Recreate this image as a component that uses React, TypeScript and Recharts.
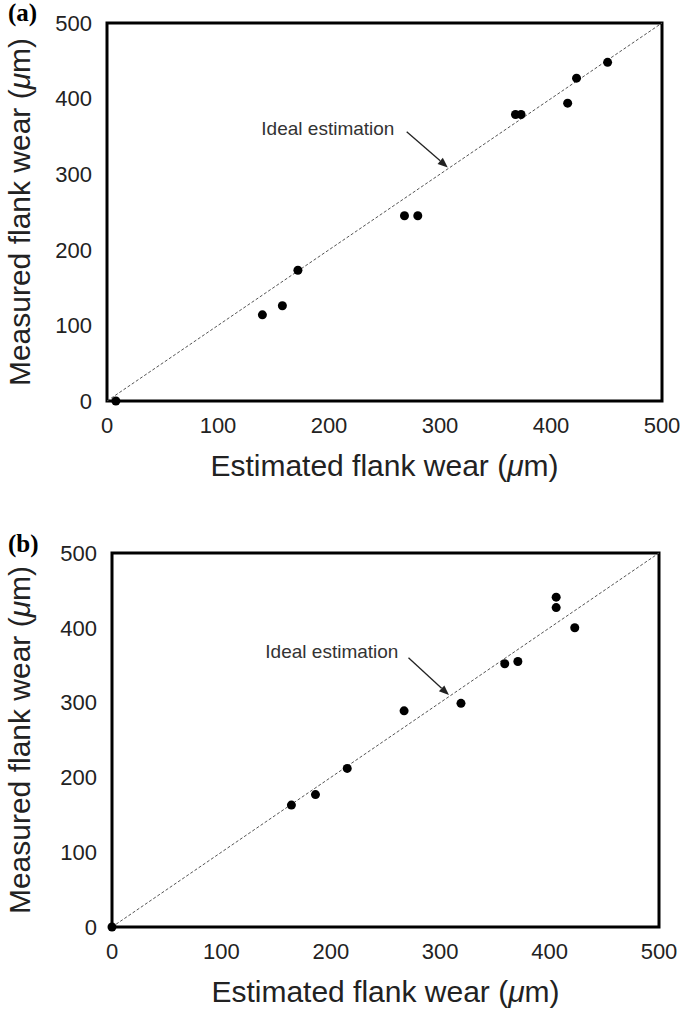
import React from 'react';
import {
  ScatterChart,
  Scatter,
  XAxis,
  YAxis,
  ReferenceLine,
  ReferenceArea,
  ReferenceDot,
  Label,
} from 'recharts';

// ---------- data ----------
const axisTicks = [0, 100, 200, 300, 400, 500];

const estimatedA = [8, 140, 158, 172, 268, 280, 368, 373, 415, 423, 451];
const measuredA = [0, 114, 126, 173, 245, 245, 379, 379, 394, 427, 448];

const estimatedB = [0, 164, 186, 215, 267, 319, 359, 371, 406, 406, 423];
const measuredB = [0, 163, 177, 212, 289, 299, 352, 355, 441, 427, 400];

const idealLine = [
  { x: 0, y: 0 },
  { x: 500, y: 500 },
];

const noteText = 'Ideal estimation';
const noteA = { text: { x: 199, y: 352 }, from: { x: 270, y: 356 }, to: { x: 307, y: 309 } };
const noteB = { text: { x: 201, y: 360 }, from: { x: 271, y: 360 }, to: { x: 308, y: 310 } };

const xTitle = 'Estimated flank wear';
const yTitle = 'Measured flank wear';

// ---------- helpers ----------
const FONT = "'Liberation Sans', Arial, sans-serif";

const toPoints = (xs: number[], ys: number[]) => xs.map((x, i) => ({ x, y: ys[i] }));

const Dot = (p: any) => <circle cx={p.cx} cy={p.cy} r={4.5} fill="#000" />;

const Arrow = (p: any) => {
  const { x1, y1, x2, y2 } = p;
  const ang = Math.atan2(y2 - y1, x2 - x1);
  const L = 10;
  const W = 4;
  const bx = x2 - L * Math.cos(ang);
  const by = y2 - L * Math.sin(ang);
  const px = -Math.sin(ang) * W;
  const py = Math.cos(ang) * W;
  return (
    <g>
      <line x1={x1} y1={y1} x2={bx} y2={by} stroke="#222" strokeWidth={1.3} />
      <polygon points={`${x2},${y2} ${bx + px},${by + py} ${bx - px},${by - py}`} fill="#222" />
    </g>
  );
};

const NoteText = (p: any) => (
  <text x={p.cx} y={p.cy} textAnchor="middle" fontFamily={FONT} fontSize={19} fill="#333">
    {noteText}
  </text>
);

const XTitle = (props: any) => {
  const vb = props.viewBox || {};
  return (
    <text
      x={vb.x + vb.width / 2}
      y={vb.y + 75}
      textAnchor="middle"
      fontFamily={FONT}
      fontSize={30}
      fill="#222"
    >
      {xTitle} (<tspan fontStyle="italic">μ</tspan>m)
    </text>
  );
};

const YTitle = (props: any) => {
  const vb = props.viewBox || {};
  const cx = vb.x + 30;
  const cy = vb.y + vb.height / 2;
  return (
    <text
      x={cx}
      y={cy}
      transform={`rotate(-90, ${cx}, ${cy})`}
      textAnchor="middle"
      fontFamily={FONT}
      fontSize={30}
      fill="#222"
    >
      {yTitle} (<tspan fontStyle="italic">μ</tspan>m)
    </text>
  );
};

type PanelProps = {
  tag: string;
  xs: number[];
  ys: number[];
  note: typeof noteA;
  height: number;
  margin: { top: number; right: number; bottom: number; left: number };
  yWidth: number;
  xHeight: number;
  tagY: number;
};

const Panel = ({ tag, xs, ys, note, height, margin, yWidth, xHeight, tagY }: PanelProps) => (
  <div style={{ position: 'relative', width: 685, height }}>
    <ScatterChart width={685} height={height} margin={margin}>
      <XAxis
        type="number"
        dataKey="x"
        domain={[0, 500]}
        ticks={axisTicks}
        axisLine={false}
        tickLine={false}
        tickSize={0}
        tickMargin={16}
        height={xHeight}
        tick={{ fontFamily: FONT, fontSize: 22, fill: '#222' }}
        interval={0}
      >
        <Label content={<XTitle />} />
      </XAxis>
      <YAxis
        type="number"
        dataKey="y"
        domain={[0, 500]}
        ticks={axisTicks}
        axisLine={false}
        tickLine={false}
        tickSize={0}
        tickMargin={15}
        width={yWidth}
        tick={{ fontFamily: FONT, fontSize: 22, fill: '#222' }}
        interval={0}
      >
        <Label content={<YTitle />} />
      </YAxis>
      <ReferenceArea x1={0} x2={500} y1={0} y2={500} fill="none" fillOpacity={0} stroke="#000" strokeWidth={3} />
      <ReferenceLine segment={idealLine} stroke="#555" strokeWidth={1} strokeDasharray="3 2" />
      <ReferenceLine segment={[note.from, note.to]} shape={Arrow} />
      <ReferenceDot x={note.text.x} y={note.text.y} r={0} shape={NoteText} />
      <Scatter data={toPoints(xs, ys)} shape={Dot} isAnimationActive={false} />
    </ScatterChart>
    <svg
      width={60}
      height={40}
      style={{ position: 'absolute', left: 0, top: tagY - 30 }}
    >
      <text x={8} y={30} fontFamily="'Liberation Serif', 'Times New Roman', serif" fontWeight="bold" fontSize={25} fill="#000">
        {tag}
      </text>
    </svg>
  </div>
);

export default function App() {
  return (
    <div style={{ position: 'absolute', left: 0, top: 0, width: 685, height: 1013, background: '#fff' }}>
      <Panel
        tag="(a)"
        xs={estimatedA}
        ys={measuredA}
        note={noteA}
        height={505}
        margin={{ top: 23, right: 23, bottom: 0, left: 0 }}
        yWidth={107}
        xHeight={104}
        tagY={21}
      />
      <Panel
        tag="(b)"
        xs={estimatedB}
        ys={measuredB}
        note={noteB}
        height={508}
        margin={{ top: 48, right: 26, bottom: 0, left: 0 }}
        yWidth={112}
        xHeight={86}
        tagY={47}
      />
    </div>
  );
}
